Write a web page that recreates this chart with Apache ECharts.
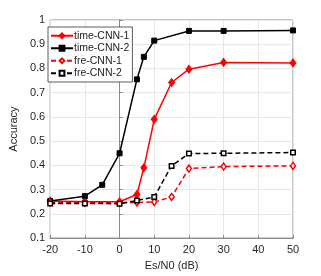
<!DOCTYPE html>
<html><head><meta charset="utf-8">
<script src="https://cdn.jsdelivr.net/npm/echarts@6/dist/echarts.min.js"></script>
<style>html,body{margin:0;padding:0;background:#fff}#c{width:321px;height:276px}</style>
</head><body><div id="c"></div>
<script>
const xTimeCNN1 = [-20, -10, 0, 5, 7, 10, 15, 20, 30, 50];
const yTimeCNN1 = [0.253, 0.250, 0.250, 0.280, 0.390, 0.590, 0.742, 0.797, 0.825, 0.823];
const xTimeCNN2 = [-20, -10, -5, 0, 5, 7, 10, 20, 30, 50];
const yTimeCNN2 = [0.253, 0.273, 0.320, 0.450, 0.755, 0.848, 0.915, 0.955, 0.955, 0.957];
const xFreCNN1 = [-20, -10, 0, 5, 10, 15, 20, 30, 50];
const yFreCNN1 = [0.247, 0.246, 0.245, 0.247, 0.249, 0.270, 0.387, 0.395, 0.398];
const xFreCNN2 = [-20, -10, 0, 5, 10, 15, 20, 30, 50];
const yFreCNN2 = [0.243, 0.243, 0.242, 0.255, 0.270, 0.398, 0.449, 0.450, 0.453];
const seriesNames = ['time-CNN-1', 'time-CNN-2', 'fre-CNN-1', 'fre-CNN-2'];

const zip = (xs, ys) => xs.map((x, i) => [x, ys[i]]);
const font = 'Liberation Sans, Arial, sans-serif';
const chart = echarts.init(document.getElementById('c'), null, {renderer: 'canvas'});
chart.setOption({
  animation: false,
  backgroundColor: '#fff',
  grid: {left: 42, right: 28, top: 20, bottom: 32, show: true, borderColor: '#8a8a8a', borderWidth: 1, backgroundColor: '#fff'},
  legend: {
    left: 48, top: 27, orient: 'vertical', itemGap: 1, itemWidth: 22, itemHeight: 6,
    padding: [3, 3, 3, 2], borderColor: '#333', borderWidth: 0.8, backgroundColor: '#fff',
    textStyle: {fontFamily: font, fontSize: 10.5, lineHeight: 11.5, color: '#222', padding: [0, 0, 0, -4]},
    data: seriesNames
  },
  xAxis: {
    type: 'value', min: -20, max: 50, interval: 10,
    name: 'Es/N0 (dB)', nameLocation: 'middle', nameGap: 17,
    nameTextStyle: {fontFamily: font, fontSize: 11, color: '#262626'},
    axisLine: {show: true, lineStyle: {color: '#8a8a8a'}},
    axisTick: {show: true, inside: true, length: 3, lineStyle: {color: '#8a8a8a'}},
    axisLabel: {fontFamily: font, fontSize: 11, color: '#262626', margin: 6},
    splitLine: {show: true, lineStyle: {color: '#e6e6e6', width: 1}}
  },
  yAxis: {
    type: 'value', min: 0.1, max: 1, interval: 0.1,
    name: 'Accuracy', nameLocation: 'middle', nameGap: 24,
    nameTextStyle: {fontFamily: font, fontSize: 11, color: '#262626'},
    axisLine: {show: true, lineStyle: {color: '#8a8a8a'}},
    axisTick: {show: true, inside: true, length: 3, lineStyle: {color: '#8a8a8a'}},
    axisLabel: {fontFamily: font, fontSize: 11, color: '#262626', margin: 5,
      formatter: v => (Math.abs(v - 1) < 1e-9 ? '1' : v.toFixed(1))},
    splitLine: {show: true, lineStyle: {color: '#e6e6e6', width: 1}}
  },
  series: [
    {name: seriesNames[0], type: 'line', data: zip(xTimeCNN1, yTimeCNN1),
     symbol: 'diamond', symbolSize: [6, 8], showAllSymbol: true,
     lineStyle: {color: '#ff0000', width: 1.5}, itemStyle: {color: '#ff0000', borderColor: '#ff0000', borderWidth: 1}},
    {name: seriesNames[1], type: 'line', data: zip(xTimeCNN2, yTimeCNN2),
     symbol: 'rect', symbolSize: 5, showAllSymbol: true,
     lineStyle: {color: '#000', width: 1.5}, itemStyle: {color: '#000', borderColor: '#000', borderWidth: 1}},
    {name: seriesNames[2], type: 'line', data: zip(xFreCNN1, yFreCNN1),
     symbol: 'diamond', symbolSize: [5, 7], showAllSymbol: true,
     lineStyle: {color: '#ff0000', width: 1.5, type: [5, 3]}, itemStyle: {color: '#fff', borderColor: '#ff0000', borderWidth: 1.5}},
    {name: seriesNames[3], type: 'line', data: zip(xFreCNN2, yFreCNN2),
     symbol: 'rect', symbolSize: 4.5, showAllSymbol: true,
     lineStyle: {color: '#000', width: 1.5, type: [5, 3]}, itemStyle: {color: '#fff', borderColor: '#000', borderWidth: 1.5}}
  ]
});
</script></body></html>
